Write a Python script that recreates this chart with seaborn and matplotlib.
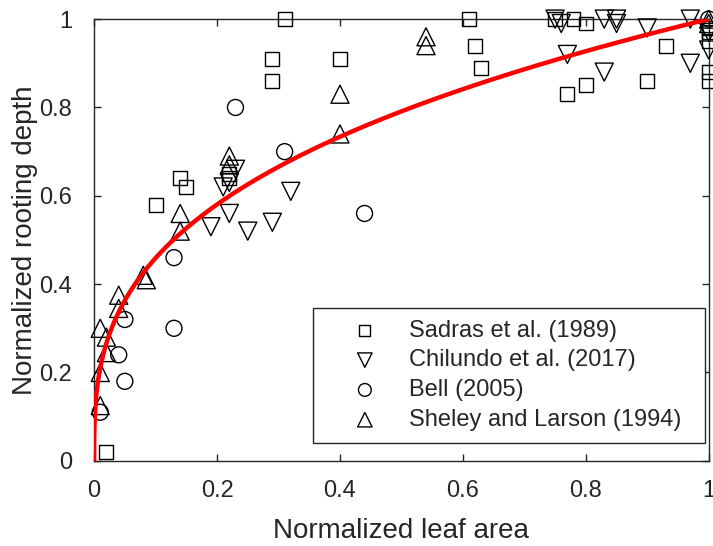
import numpy as np
import matplotlib
matplotlib.use("Agg")
import matplotlib.pyplot as plt
import seaborn as sns

# Data
sadras_x = [0.02, 0.10, 0.14, 0.15, 0.22, 0.22, 0.29, 0.29, 0.31, 0.40, 0.61, 0.62,
            0.63, 0.75, 0.78, 0.80, 0.77, 0.80, 0.90, 0.93, 1.00, 1.00, 1.00, 1.00, 1.00]
sadras_y = [0.02, 0.58, 0.64, 0.62, 0.65, 0.64, 0.91, 0.86, 1.00, 0.91, 1.00, 0.94,
            0.89, 1.00, 1.00, 0.99, 0.83, 0.85, 0.86, 0.94, 0.98, 0.97, 0.95, 0.88, 0.86]

chilundo_x = [0.19, 0.21, 0.22, 0.22, 0.23, 0.25, 0.29, 0.32, 0.75, 0.76, 0.77, 0.83,
              0.83, 0.85, 0.85, 0.90, 0.97, 0.97, 1.00, 1.00]
chilundo_y = [0.53, 0.62, 0.56, 0.63, 0.66, 0.52, 0.54, 0.61, 1.00, 0.99, 0.92, 1.00,
              0.88, 1.00, 0.99, 0.98, 1.00, 0.90, 0.93, 0.97]

bell_x = [0.01, 0.05, 0.04, 0.05, 0.13, 0.13, 0.23, 0.31, 0.44, 1.00]
bell_y = [0.11, 0.18, 0.24, 0.32, 0.30, 0.46, 0.80, 0.70, 0.56, 1.00]

sheley_x = [0.01, 0.01, 0.02, 0.02, 0.01, 0.04, 0.04, 0.08, 0.085, 0.14, 0.14, 0.22,
            0.22, 0.40, 0.40, 0.54, 0.54, 1.00, 1.00]
sheley_y = [0.125, 0.20, 0.245, 0.28, 0.30, 0.345, 0.375, 0.42, 0.41, 0.52, 0.56, 0.67,
            0.69, 0.74, 0.83, 0.94, 0.96, 0.99, 1.00]

# fitted power law: rooting depth = leaf area ** b
FIT_EXPONENT = 0.338

sns.set_style("ticks")
plt.rcParams['font.family'] = ['Liberation Sans', 'DejaVu Sans']

fig = plt.figure(figsize=(7.13, 5.46), dpi=100)
ax = fig.add_axes([0.132, 0.156, 0.862, 0.809])

series = [
    (sadras_x, sadras_y, 's', 10, 'Sadras et al. (1989)'),
    (chilundo_x, chilundo_y, 'v', 13, 'Chilundo et al. (2017)'),
    (bell_x, bell_y, 'o', 11.5, 'Bell (2005)'),
    (sheley_x, sheley_y, '^', 13, 'Sheley and Larson (1994)'),
]
for xs, ys, mk, ms, lab in series:
    sns.scatterplot(x=xs, y=ys, marker=mk, s=ms ** 2, facecolor='none',
                    edgecolor='black', linewidth=1.0, label=lab, ax=ax,
                    clip_on=False, zorder=3)

xfit = np.concatenate([[0.0], np.logspace(-7, 0, 400)])
sns.lineplot(x=xfit, y=xfit ** FIT_EXPONENT, color='red', linewidth=3.2,
             ax=ax, zorder=4, sort=False, estimator=None)

ax.set_xlim(0, 1)
ax.set_ylim(0, 1)
ticks = [0, 0.2, 0.4, 0.6, 0.8, 1]
tick_labels = ['0', '0.2', '0.4', '0.6', '0.8', '1']
ax.set_xticks(ticks)
ax.set_xticklabels(tick_labels)
ax.set_yticks(ticks)
ax.set_yticklabels(tick_labels)
ax.tick_params(direction='in', length=5, width=1, top=True, right=True,
               labelsize=17, colors='#262626')
ax.tick_params(axis='x', pad=14)
ax.tick_params(axis='y', pad=16)
for sp in ax.spines.values():
    sp.set_visible(True)
    sp.set_color('#262626')
    sp.set_linewidth(1.0)

ax.set_xlabel('Normalized leaf area', fontsize=20, color='#262626', labelpad=11)
ax.set_ylabel('Normalized rooting depth', fontsize=20, color='#262626', labelpad=1)

leg = ax.legend(loc='lower left', bbox_to_anchor=(0.356, 0.041, 0.638, 0.3),
                mode='expand', borderaxespad=0, fontsize=17,
                frameon=True, fancybox=False, edgecolor='#262626', framealpha=1,
                markerscale=0.8, borderpad=0.5, handlelength=3.4,
                handletextpad=0.15, labelspacing=0.33)
leg.get_frame().set_linewidth(1.0)

fig.savefig('out.png', dpi=100)
